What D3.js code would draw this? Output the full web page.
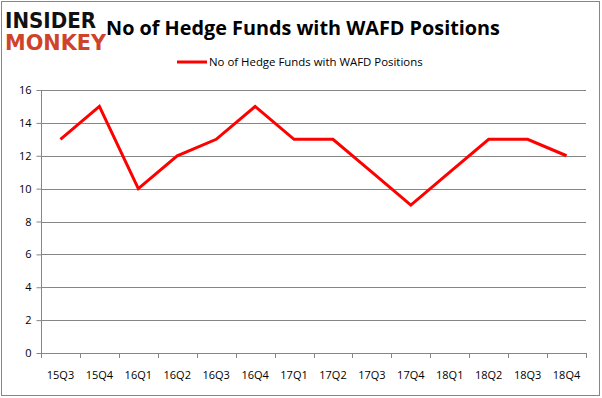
<!DOCTYPE html>
<html><head><meta charset="utf-8">
<script src="https://cdn.jsdelivr.net/npm/d3@7"></script>
<style>body{margin:0;background:#fff}svg{display:block}</style>
</head><body>
<svg id="c" width="602" height="398"></svg>
<script>
const categories = ["15Q3","15Q4","16Q1","16Q2","16Q3","16Q4","17Q1","17Q2","17Q3","17Q4","18Q1","18Q2","18Q3","18Q4"];
const values = [13,15,10,12,13,15,13,13,11,9,11,13,13,12];
const yTicks = [0,2,4,6,8,10,12,14,16];
const seriesName = "No of Hedge Funds with WAFD Positions";
const titleText = "No of Hedge Funds with WAFD Positions";

const svg = d3.select("#c");
const font = "'Open Sans', 'Liberation Sans', sans-serif";
function fit(sel, w){ const n=sel.node(); const cur=+sel.attr("font-size"); const l=n.getComputedTextLength(); if(l>0) sel.attr("font-size", cur*w/l); }

svg.append("rect").attr("x",1.5).attr("y",1.5).attr("width",598).attr("height",394)
  .attr("fill","#fff").attr("stroke","#868686").attr("stroke-width",1);

const pL = 41, pR = 586, pT = 90, pB = 353;
const x = d3.scaleBand().domain(categories).range([pL,pR]);
const y = d3.scaleLinear().domain([0,16]).range([pB,pT]);

svg.append("g").selectAll("line").data(yTicks.filter(d=>d>0)).join("line")
  .attr("x1",pL).attr("x2",pR).attr("y1",d=>Math.round(y(d))+0.5).attr("y2",d=>Math.round(y(d))+0.5)
  .attr("stroke","#868686").attr("stroke-width",1);

const ya = svg.append("g").attr("transform",`translate(${pL+0.5},0)`)
  .call(d3.axisLeft(y).tickValues(yTicks).tickSize(5).tickPadding(5));
ya.select(".domain").attr("stroke","#868686").attr("d",`M0,${pT}V${pB+0.5}`);
ya.selectAll(".tick line").attr("stroke","#868686");
ya.selectAll("text").attr("font-family",font).attr("font-size",11).attr("fill","#000");

const xa = svg.append("g").attr("transform",`translate(0,${Math.round(pB)+0.5})`)
  .call(d3.axisBottom(x).tickSize(0).tickPadding(18));
xa.select(".domain").attr("stroke","#868686").attr("d",`M${pL},0H${pR}`);
xa.selectAll("text").attr("font-family",font).attr("font-size",11).attr("fill","#000");
svg.append("g").selectAll("line").data(d3.range(categories.length+1)).join("line")
  .attr("x1",i=>Math.round(pL+i*x.step())+0.5).attr("x2",i=>Math.round(pL+i*x.step())+0.5)
  .attr("y1",Math.round(pB)).attr("y2",Math.round(pB)+5).attr("stroke","#868686");

const line = d3.line().x((d,i)=>x(categories[i])+x.bandwidth()/2).y(d=>y(d));
svg.append("path").datum(values).attr("d",line).attr("fill","none")
  .attr("stroke","#ff0000").attr("stroke-width",3).attr("stroke-linejoin","miter");

// title
const t = svg.append("text").attr("x",303).attr("y",35).attr("text-anchor","middle")
  .attr("font-family",font).attr("font-weight","bold").attr("font-size",20).attr("fill","#000").text(titleText);
fit(t, 394);

// legend
svg.append("line").attr("x1",177).attr("x2",207).attr("y1",62).attr("y2",62).attr("stroke","#ff0000").attr("stroke-width",3);
const lt = svg.append("text").attr("x",209).attr("y",66).attr("font-family",font).attr("font-size",12).attr("fill","#000").text(seriesName);
fit(lt, 214);

// logo
const logo = svg.append("g");
logo.append("text").attr("x",5).attr("y",28).attr("font-family","'DejaVu Sans', sans-serif").attr("font-weight","bold")
  .attr("font-size",22).attr("textLength",91).attr("lengthAdjust","spacingAndGlyphs").attr("fill","#111").text("INSIDER");
logo.append("text").attr("x",5).attr("y",50).attr("font-family","'DejaVu Sans', sans-serif").attr("font-weight","bold")
  .attr("font-size",22).attr("textLength",101).attr("lengthAdjust","spacingAndGlyphs").attr("fill","#d0432b").text("MONKEY");
</script>
</body></html>
